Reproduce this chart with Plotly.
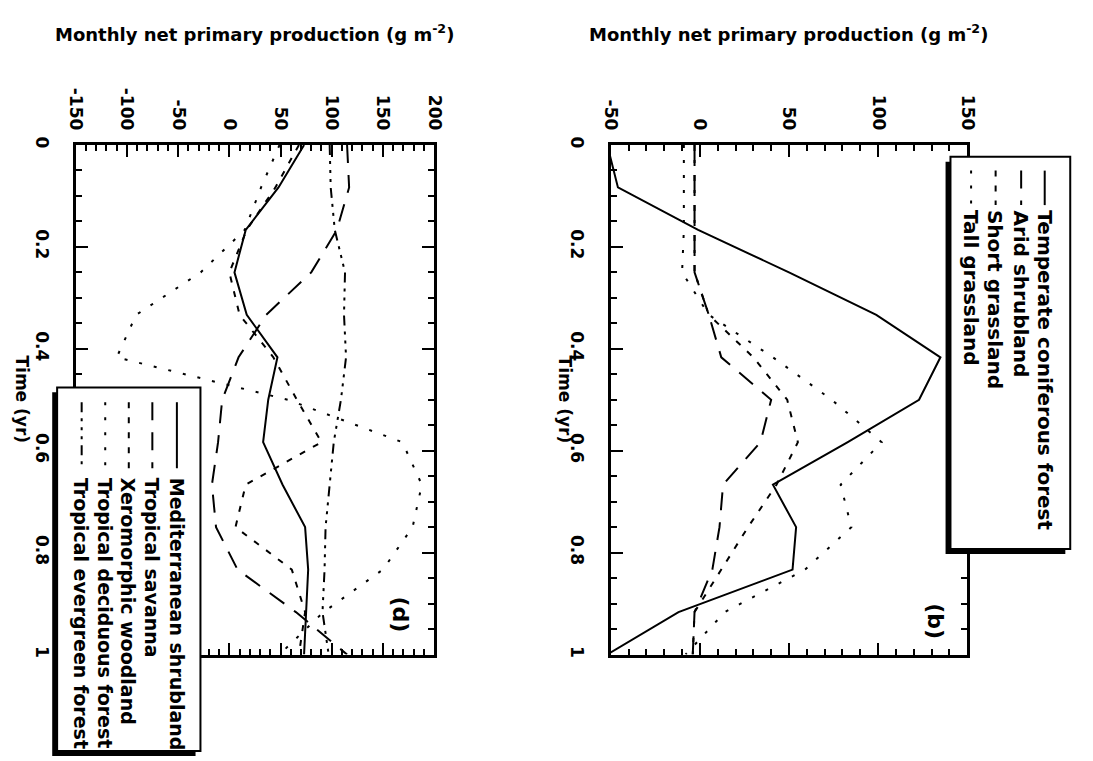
import plotly.graph_objects as go

# ---------------- data ----------------
time_yr = [0, 0.0833, 0.1667, 0.25, 0.3333, 0.4167, 0.5, 0.5833, 0.6667, 0.75, 0.8333, 0.9167, 1.0]

# panel (d)
mediterranean_shrubland = [73, 48, 16, 5, 17, 47, 38, 33, 52, 74, 77, 75, 73]
tropical_savanna = [115, 117, 105, 80, 36, 9, -7, -11, -17, -13, 8, 65, 115]
xeromorphic_woodland = [68, 45, 17, 0, 10, 43, 66, 90, 16, 6, 61, 74, 68]
tropical_deciduous_forest = [49, 31, 15, -28, -91, -110, 57, 169, 188, 179, 150, 92, 49]
tropical_evergreen_forest = [98, 99, 103, 113, 112, 114, 109, 102, 98, 94, 93, 91, 97]

# panel (b)
temperate_coniferous_forest = [-52, -46, -1, 50, 99, 135, 123, 83, 41, 54, 52, -12, -52]
arid_shrubland = [-3, -3, -3, -3, 5, 12, 40, 34, 13, 11, 7, -3, -4]
short_grassland = [-3, -3, -3, -3, 5, 30, 49, 55, 43, 27, 12, -3, -4]
tall_grassland = [-9, -9, -9, -10, 5, 41, 74, 102, 79, 85, 59, 14, -8]

names_d = ["Mediterranean shrubland", "Tropical savanna", "Xeromorphic woodland",
           "Tropical deciduous forest", "Tropical evergreen forest"]
names_b = ["Temperate coniferous forest", "Arid shrubland", "Short grassland", "Tall grassland"]

npp_ticks_d = [-150, -100, -50, 0, 50, 100, 150, 200]
npp_labels_d = ["-150", "-100", "-50", "0", "50", "100", "150", "200"]
npp_ticks_b = [-50, 0, 50, 100, 150]
npp_labels_b = ["-50", "0", "50", "100", "150"]
time_ticks = [0, 0.2, 0.4, 0.6, 0.8, 1]
time_labels = ["0", "0.2", "0.4", "0.6", "0.8", "1"]

# ---------------- styling ----------------
W, H = 1093, 761
FONT = "DejaVu Sans"
SOLID = "solid"
LONGDASH = "18px,12px"
SHORTDASH = "6px,9px"
DOTTED = "3px,12px"
DASHDOTS = "10px,6px,3px,6px,3px,6px,3px,6px"

styles_d = [SOLID, LONGDASH, SHORTDASH, DOTTED, DASHDOTS]
styles_b = [SOLID, LONGDASH, SHORTDASH, DOTTED]


def px(x):
    return x / W


def py(y):
    return 1 - y / H


fig = go.Figure()

series_d = [mediterranean_shrubland, tropical_savanna, xeromorphic_woodland,
            tropical_deciduous_forest, tropical_evergreen_forest]
for name, vals, dash in zip(names_d, series_d, styles_d):
    fig.add_trace(go.Scatter(x=vals, y=time_yr, mode="lines", name=name,
                             line=dict(color="black", width=2, dash=dash),
                             xaxis="x", yaxis="y", showlegend=False))

series_b = [temperate_coniferous_forest, arid_shrubland, short_grassland, tall_grassland]
for name, vals, dash in zip(names_b, series_b, styles_b):
    fig.add_trace(go.Scatter(x=vals, y=time_yr, mode="lines", name=name,
                             line=dict(color="black", width=2, dash=dash),
                             xaxis="x2", yaxis="y2", showlegend=False))

tickfont = dict(family=FONT, size=17, color="black", weight="bold")

common_x = dict(side="top", tickangle=90, showgrid=False, zeroline=False,
                showline=True, linewidth=2.5, linecolor="black", mirror="ticks",
                ticks="inside", ticklen=12, tickwidth=2, tickcolor="black",
                tickfont=tickfont, ticklabelstandoff=6,
                minor=dict(dtick=10, ticks="inside", ticklen=6, tickwidth=1.5, tickcolor="black"))
common_y = dict(range=[1, 0], tickvals=time_ticks, ticktext=time_labels, tickangle=90,
                showgrid=False, zeroline=False,
                showline=True, linewidth=2.5, linecolor="black", mirror="ticks",
                ticks="inside", ticklen=12, tickwidth=2, tickcolor="black",
                tickfont=tickfont, ticklabelstandoff=17,
                minor=dict(dtick=0.05, ticks="inside", ticklen=6, tickwidth=1.5, tickcolor="black"))

ydom = [py(656), py(139)]
fig.update_layout(
    width=W, height=H, margin=dict(l=0, r=0, t=0, b=0),
    paper_bgcolor="white", plot_bgcolor="white", showlegend=False,
    xaxis=dict(domain=[px(67), px(432)], range=[-150, 200], tickvals=npp_ticks_d,
               ticktext=npp_labels_d, anchor="y", **common_x),
    yaxis=dict(domain=ydom, anchor="x", **common_y),
    xaxis2=dict(domain=[px(612), px(975)], range=[-50, 150], tickvals=npp_ticks_b,
                ticktext=npp_labels_b, anchor="y2", **common_x),
    yaxis2=dict(domain=ydom, anchor="x2", **common_y),
)

shapes = []
annotations = []

title_text = "Monthly net primary production (g m<sup>-2</sup>)"
for cx in [(67 + 432) / 2, (612 + 975) / 2]:
    annotations.append(dict(x=px(cx), y=py(25), xref="paper", yref="paper", text=title_text,
                            showarrow=False, xanchor="center", yanchor="middle",
                            font=dict(family=FONT, size=18, color="black", weight="bold")))

for tx in [12, 565]:
    annotations.append(dict(x=px(tx), y=py(397), xref="paper", yref="paper", text="Time (yr)",
                            textangle=90, showarrow=False, xanchor="center", yanchor="middle",
                            font=dict(family=FONT, size=17, color="black", weight="bold")))

for lab, (lx, ly) in [("(d)", (398, 615)), ("(b)", (943, 622))]:
    annotations.append(dict(x=px(lx), y=py(ly), xref="paper", yref="paper", text=lab,
                            textangle=90, showarrow=False, xanchor="center", yanchor="middle",
                            font=dict(family=FONT, size=22, color="black", weight="bold")))


def legend_box(x0, y0, x1, y1, off):
    shapes.append(dict(type="rect", xref="paper", yref="paper", layer="above",
                       x0=px(x0 - off), x1=px(x1 - off), y0=py(y0 + off), y1=py(y1 + off),
                       fillcolor="black", line=dict(color="black", width=0)))
    shapes.append(dict(type="rect", xref="paper", yref="paper", layer="above",
                       x0=px(x0), x1=px(x1), y0=py(y0), y1=py(y1),
                       fillcolor="white", line=dict(color="black", width=2)))


def legend_entries(names, dashes, cols, s0, s1, t0, size):
    for name, dash, cx in zip(names, dashes, cols):
        shapes.append(dict(type="line", xref="paper", yref="paper", layer="above",
                           x0=px(cx), x1=px(cx), y0=py(s0), y1=py(s1),
                           line=dict(color="black", width=2, dash=dash)))
        annotations.append(dict(x=px(cx), y=py(t0), xref="paper", yref="paper", text=name,
                                textangle=90, showarrow=False, xanchor="center", yanchor="top",
                                font=dict(family=FONT, size=size, color="black", weight="bold")))


legend_box(48, 385, 194, 754, 5)
legend_entries(names_d, styles_d, [170, 145, 121, 97, 73], 400, 467, 475, 19)

legend_box(958, 151, 1080, 549, 5)
legend_entries(names_b, styles_b, [1054, 1030, 1004, 979], 165, 200, 203, 20)

fig.update_layout(shapes=shapes, annotations=annotations)

fig.write_html("out.html")
